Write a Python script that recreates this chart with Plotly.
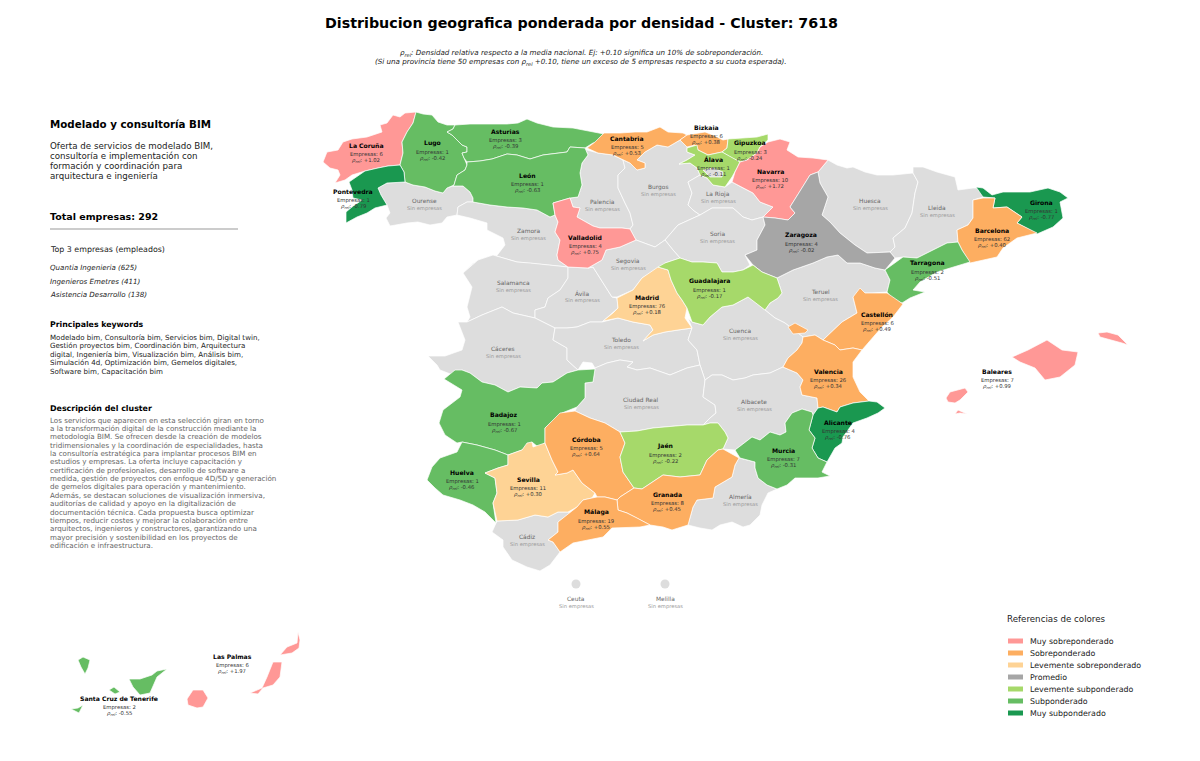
import plotly.graph_objects as go

# colores por nivel
colores = {
    'Muy sobreponderado': '#ff9896',
    'Sobreponderado': '#fdae61',
    'Levemente sobreponderado': '#fed395',
    'Promedio': '#a6a6a6',
    'Levemente subponderado': '#a6d96a',
    'Subponderado': '#66bd63',
    'Muy subponderado': '#1a9850',
}
gris = '#dddddd'

# provincias con empresas
provincias = ['La Coruña', 'Lugo', 'Asturias', 'León', 'Pontevedra', 'Cantabria', 'Bizkaia', 'Gipuzkoa',
              'Álava', 'Navarra', 'Zaragoza', 'Valladolid', 'Madrid', 'Guadalajara', 'Girona', 'Barcelona',
              'Tarragona', 'Castellón', 'Valencia', 'Alicante', 'Murcia', 'Badajoz', 'Huelva', 'Sevilla',
              'Córdoba', 'Jaén', 'Granada', 'Málaga', 'Baleares', 'Las Palmas', 'Santa Cruz de Tenerife']
empresas = [6, 1, 3, 1, 1, 5, 6, 3, 1, 10, 4, 4, 76, 1, 1, 62, 2, 6, 26, 4, 7, 1, 1, 11, 5, 2, 8, 19, 7, 6, 2]
rho_rel = [1.02, -0.42, -0.39, -0.63, -0.79, 0.53, 0.38, -0.24, -0.11, 1.72, -0.02, 0.75, 0.18, -0.17, -0.77,
           0.40, -0.51, 0.49, 0.34, -0.76, -0.31, -0.67, -0.46, 0.30, 0.64, -0.22, 0.45, 0.55, 0.99, 1.97, -0.55]
niveles = ['Muy sobreponderado', 'Subponderado', 'Subponderado', 'Subponderado', 'Muy subponderado',
           'Sobreponderado', 'Sobreponderado', 'Levemente subponderado', 'Levemente subponderado',
           'Muy sobreponderado', 'Promedio', 'Muy sobreponderado', 'Levemente sobreponderado',
           'Levemente subponderado', 'Muy subponderado', 'Sobreponderado', 'Subponderado', 'Sobreponderado',
           'Sobreponderado', 'Muy subponderado', 'Subponderado', 'Subponderado', 'Subponderado',
           'Levemente sobreponderado', 'Sobreponderado', 'Levemente subponderado', 'Sobreponderado',
           'Sobreponderado', 'Muy sobreponderado', 'Muy sobreponderado', 'Subponderado']
etiqueta_x = [366, 432, 505, 527, 353, 627, 706, 750, 713, 770, 801, 585, 647, 709, 1041, 992, 927, 877, 828,
              838, 783, 504, 462, 528, 586, 665, 667, 596, 997, 232, 119]
etiqueta_y = [145, 143, 131, 175, 191, 138, 127, 143, 159, 171, 235, 237, 297, 281, 202, 230, 263, 314, 371,
              422, 450, 415, 472, 479, 439, 446, 494, 512, 371, 656, 698]

# provincias sin empresas
sin_empresas = ['Ourense', 'Zamora', 'Palencia', 'Burgos', 'La Rioja', 'Soria', 'Huesca', 'Lleida', 'Salamanca',
                'Ávila', 'Segovia', 'Teruel', 'Cáceres', 'Toledo', 'Cuenca', 'Ciudad Real', 'Albacete',
                'Almería', 'Cádiz', 'Ceuta', 'Melilla']
gris_x = [424, 528, 602, 658, 718, 717, 870, 937, 513, 582, 628, 820, 503, 621, 740, 641, 754, 740, 527, 576, 665]
gris_y = [201, 231, 202, 187, 194, 234, 201, 208, 283, 293, 261, 292, 349, 340, 331, 400, 402, 497, 537, 599, 599]
ciudades_x = [576, 665]
ciudades_y = [584, 584]

la_coruna = [(416,112),(405,113),(400,117),(393,115),(387,123),(380,125),(382,132),(367,137),(352,139),(343,142),(338,150),(327,152),(323,162),(330,168),(338,170),(340,175),(335,183),(345,180),(352,175),(365,171),(378,168),(388,166),(400,165),(403,153),(402,142),(407,132),(413,123)]
lugo = [(416,112),(423,114),(432,115),(438,122),(447,125),(455,125),(453,129),(447,132),(452,135),(457,140),(462,145),(467,147),(467,152),(462,153),(464,158),(467,165),(465,170),(457,175),(454,185),(447,188),(443,193),(435,191),(425,187),(413,185),(405,182),(404,172),(400,165),(403,153),(402,142),(407,132),(413,123)]
asturias = [(455,125),(470,124),(490,124),(507,124),(518,123),(527,119),(537,123),(553,127),(573,128),(597,133),(604,134),(603,142),(593,143),(585,148),(570,147),(567,152),(557,153),(543,155),(530,159),(517,155),(507,154),(492,159),(480,161),(467,162),(464,158),(462,153),(467,152),(467,147),(462,145),(457,140),(452,135),(447,132),(453,129)]
leon = [(467,162),(480,161),(492,159),(507,154),(517,155),(530,159),(543,155),(557,153),(567,152),(570,147),(585,148),(588,155),(582,163),(580,173),(582,185),(578,197),(570,198),(553,203),(555,215),(550,217),(537,210),(523,208),(507,207),(490,205),(473,202),(473,198),(470,192),(463,186),(453,186),(454,185),(457,175),(465,170),(467,165)]
pontevedra = [(349,182),(365,171),(378,168),(388,166),(400,165),(404,172),(405,182),(387,183),(378,188),(381,195),(387,205),(375,208),(367,213),(357,217),(346,223),(346,212),(352,207),(362,200),(353,198),(352,190)]
ourense = [(378,188),(387,183),(405,182),(413,185),(425,187),(435,191),(443,193),(447,188),(453,186),(463,186),(470,192),(473,198),(473,202),(467,202),(458,207),(457,215),(447,217),(442,223),(430,225),(418,222),(407,223),(390,226),(386,218),(390,213),(387,205),(381,195)]
zamora = [(458,207),(467,202),(473,202),(490,205),(507,207),(523,208),(537,210),(550,217),(555,215),(558,222),(555,232),(560,240),(557,255),(558,260),(568,267),(548,265),(530,263),(517,262),(493,255),(478,260),(463,273),(473,263),(495,258),(505,245),(503,238),(487,230),(487,223),(470,218),(457,215)]
palencia = [(585,148),(587,150),(598,153),(613,155),(623,160),(625,168),(618,175),(618,188),(625,203),(630,213),(633,225),(630,229),(622,228),(600,228),(593,226),(577,217),(580,208),(573,207),(570,198),(578,197),(582,185),(580,173),(582,163),(588,155)]
valladolid = [(553,203),(570,198),(573,207),(580,208),(577,217),(593,226),(600,228),(622,228),(630,229),(636,240),(620,247),(606,250),(602,260),(588,268),(568,267),(558,260),(557,255),(560,240),(555,232),(558,222),(555,215)]
cantabria = [(587,148),(595,142),(604,133),(620,133),(635,132),(647,132),(660,127),(668,132),(683,133),(687,135),(680,140),(668,147),(657,145),(645,152),(637,160),(645,163),(645,168),(637,170),(630,163),(623,160),(613,155),(598,153)]
bizkaia = [(687,135),(697,133),(705,132),(713,135),(723,140),(728,139),(727,148),(722,152),(708,155),(698,150),(695,145),(687,147),(680,140)]
gipuzkoa = [(728,139),(743,138),(757,137),(768,134),(768,140),(760,147),(757,153),(747,160),(740,162),(732,158),(722,152),(727,148)]
alava = [(687,148),(697,145),(698,150),(708,155),(722,152),(732,158),(740,162),(737,168),(732,177),(725,187),(713,185),(707,178),(700,175),(697,168),(690,163),(679,164),(687,160),(695,155),(687,152)]
trevino = [(703,170),(713,168),(723,172),(722,177),(710,177)]
navarra = [(760,147),(768,142),(780,139),(790,142),(787,150),(798,157),(813,158),(828,160),(818,172),(810,175),(802,188),(790,207),(795,213),(788,220),(775,218),(763,217),(773,207),(760,202),(753,193),(743,188),(732,182),(735,172),(740,162),(747,160),(757,153)]
la_rioja = [(688,182),(700,175),(707,178),(713,185),(725,187),(732,182),(743,188),(753,193),(760,202),(773,207),(763,217),(752,220),(743,217),(733,208),(712,208),(700,215),(693,210),(688,205),(692,193)]
burgos = [(637,170),(645,168),(645,163),(637,160),(645,152),(657,145),(668,147),(680,140),(687,147),(687,152),(695,155),(687,160),(679,164),(690,163),(697,168),(700,175),(688,182),(692,193),(688,205),(693,210),(700,215),(678,225),(665,240),(655,247),(636,240),(630,229),(633,225),(630,213),(625,203),(618,188),(618,175),(625,168),(623,160),(630,163)]
soria = [(665,240),(678,225),(700,215),(712,208),(733,208),(743,217),(752,220),(763,217),(765,225),(757,240),(757,250),(745,255),(750,265),(743,270),(733,272),(722,272),(717,263),(703,262),(692,262),(680,258),(673,250)]
segovia = [(620,247),(636,240),(655,247),(665,240),(673,250),(680,258),(665,263),(663,268),(658,268),(642,278),(633,290),(617,297),(612,297),(600,278),(593,267),(588,268),(602,260),(606,250)]
avila = [(568,267),(588,268),(593,267),(600,278),(612,297),(617,298),(618,308),(610,315),(602,322),(590,322),(577,327),(567,328),(555,328),(535,318),(535,310),(545,307),(548,298),(560,290),(568,278)]
salamanca = [(463,273),(478,260),(493,255),(517,262),(530,263),(548,265),(568,267),(568,278),(560,290),(548,298),(545,307),(535,310),(535,318),(513,313),(502,307),(482,315),(467,322),(470,317),(467,307),(472,287)]
madrid = [(658,267),(668,270),(671,280),(677,293),(682,300),(687,308),(685,318),(692,328),(678,330),(665,332),(653,335),(643,341),(653,330),(650,325),(633,322),(618,318),(603,321),(613,313),(618,308),(617,298),(633,290),(642,278)]
guadalajara = [(665,263),(680,258),(692,262),(703,262),(717,263),(722,272),(733,272),(743,270),(753,265),(762,272),(777,278),(782,293),(778,298),(770,303),(765,310),(755,302),(748,297),(733,305),(722,307),(710,317),(703,325),(692,322),(687,308),(682,300),(677,293),(671,280),(668,270),(658,267)]
teruel = [(777,278),(793,270),(813,263),(827,257),(838,255),(847,263),(860,263),(875,268),(885,270),(890,280),(887,292),(872,293),(860,293),(853,297),(857,313),(842,322),(823,340),(815,335),(803,337),(785,323),(775,318),(765,310),(770,303),(778,298),(782,293)]
zaragoza = [(763,217),(775,218),(788,220),(795,213),(790,207),(802,188),(810,175),(818,172),(820,183),(828,197),(822,215),(830,222),(840,233),(855,245),(867,253),(890,252),(895,258),(885,270),(875,268),(860,263),(847,263),(838,255),(827,257),(813,263),(793,270),(777,278),(762,272),(753,265),(745,255),(757,250),(757,240),(765,225)]
huesca = [(828,160),(837,165),(847,168),(853,167),(865,172),(877,175),(893,175),(913,173),(918,182),(915,193),(912,213),(905,228),(893,238),(895,247),(890,252),(867,253),(855,245),(840,233),(830,222),(822,215),(828,197),(820,183),(818,172)]
lleida = [(913,173),(913,167),(923,167),(937,172),(955,177),(958,190),(973,188),(982,188),(983,197),(973,200),(973,218),(968,225),(957,230),(958,242),(947,243),(933,250),(917,258),(903,257),(895,258),(890,252),(895,247),(893,238),(905,228),(912,213),(915,193),(918,182)]
tarragona = [(958,242),(962,250),(970,262),(953,267),(937,272),(920,282),(913,290),(925,292),(910,298),(902,303),(893,300),(887,292),(890,280),(885,270),(903,257),(917,258),(933,250),(947,243)]
barcelona = [(973,200),(983,198),(995,198),(993,208),(1007,207),(1022,217),(1017,223),(1037,233),(1017,238),(1003,248),(997,257),(970,263),(962,250),(958,242),(957,230),(968,225),(973,218)]
girona = [(976,187),(983,188),(992,195),(1003,192),(1017,192),(1030,192),(1048,188),(1060,192),(1068,198),(1060,202),(1063,218),(1053,227),(1037,234),(1017,223),(1022,217),(1007,207),(993,208),(995,198),(983,197)]
castellon = [(860,288),(865,293),(887,293),(903,304),(893,317),(882,327),(875,335),(862,350),(853,348),(840,350),(835,345),(823,340),(842,322),(857,313),(853,297)]
valencia = [(803,337),(815,335),(823,340),(835,345),(840,350),(853,348),(862,350),(853,362),(853,377),(860,392),(869,401),(853,403),(840,407),(837,412),(823,407),(818,408),(817,398),(802,395),(800,387),(803,380),(797,373),(783,367),(788,358),(797,350),(802,343)]
ademuz = [(788,327),(795,323),(808,330),(805,333),(793,334)]
alicante = [(818,408),(823,407),(837,412),(840,407),(853,403),(869,401),(877,402),(885,408),(878,413),(867,418),(853,423),(843,437),(842,443),(835,448),(827,462),(818,458),(812,448),(815,438),(809,430),(813,415)]
murcia = [(786,432),(785,423),(792,413),(802,409),(812,412),(813,415),(809,430),(815,438),(812,448),(818,458),(827,462),(822,472),(830,476),(818,478),(805,478),(795,478),(787,485),(777,489),(767,485),(758,478),(755,468),(755,462),(740,458),(735,450),(752,437),(760,440),(770,432),(780,435)]
albacete = [(783,367),(797,373),(803,380),(800,387),(802,395),(817,398),(818,408),(813,415),(812,412),(802,409),(792,413),(785,423),(786,432),(780,435),(770,432),(760,440),(752,437),(735,450),(723,449),(728,438),(725,432),(718,423),(710,423),(703,425),(710,418),(716,413),(715,405),(703,397),(705,380),(712,375),(722,375),(733,380),(745,378),(753,375),(770,373)]
cuenca = [(692,328),(688,318),(692,322),(703,325),(710,317),(722,307),(733,305),(748,297),(755,302),(765,310),(775,318),(785,323),(803,337),(802,343),(797,350),(788,358),(783,367),(770,373),(753,375),(745,378),(733,380),(722,375),(712,375),(705,380),(700,365),(697,350),(688,340)]
toledo = [(555,328),(567,328),(577,327),(590,322),(602,322),(618,318),(633,322),(650,325),(653,330),(643,341),(653,335),(665,332),(678,330),(692,328),(688,340),(697,350),(700,365),(687,368),(670,375),(650,368),(637,370),(627,367),(633,362),(620,360),(607,363),(595,368),(592,363),(583,362),(578,370),(567,360),(567,348),(553,340)]
caceres = [(458,322),(467,322),(482,315),(502,307),(513,313),(535,318),(555,328),(553,340),(567,348),(567,360),(578,370),(567,373),(553,382),(542,383),(537,388),(520,387),(508,392),(495,385),(482,382),(470,373),(462,370),(453,375),(440,370),(437,365),(428,356),(445,356),(462,350),(465,340)]
badajoz = [(444,379),(455,370),(462,370),(470,373),(482,382),(495,385),(508,392),(520,387),(537,388),(542,383),(553,382),(567,373),(578,370),(595,369),(593,382),(585,383),(585,398),(577,407),(562,413),(545,428),(545,443),(538,447),(532,442),(522,450),(508,455),(495,450),(477,445),(462,442),(457,443),(445,435),(439,423),(443,410),(460,397),(462,390)]
huelva = [(462,442),(477,445),(495,450),(508,455),(508,465),(498,468),(485,473),(495,478),(497,493),(493,503),(496,523),(485,512),(473,505),(460,500),(443,495),(435,488),(427,480),(432,467),(440,458),(457,452)]
sevilla = [(508,455),(522,450),(527,443),(532,442),(533,447),(545,443),(552,460),(558,472),(555,475),(567,473),(573,470),(582,483),(595,493),(592,498),(583,500),(577,507),(568,512),(558,512),(548,517),(535,515),(518,520),(497,521),(493,503),(497,493),(495,478),(485,473),(498,468),(508,465)]
cordoba = [(545,428),(560,413),(575,411),(590,418),(605,423),(620,432),(625,443),(620,457),(623,472),(630,482),(634,488),(620,497),(617,500),(605,497),(597,497),(595,493),(582,483),(573,470),(567,473),(555,475),(558,472),(552,460),(545,443)]
ciudad_real = [(595,368),(607,363),(620,360),(633,362),(627,367),(637,370),(650,368),(670,375),(687,368),(700,365),(705,380),(703,397),(715,405),(716,413),(710,418),(703,425),(687,425),(667,427),(653,428),(637,431),(620,432),(605,423),(590,418),(575,411),(577,407),(585,398),(585,383),(593,382)]
jaen = [(620,432),(637,431),(653,428),(667,427),(687,425),(703,425),(710,423),(718,423),(725,432),(728,438),(723,449),(718,450),(707,460),(700,475),(680,477),(663,475),(642,489),(634,488),(630,482),(623,472),(620,457),(625,443)]
granada = [(634,488),(642,489),(663,475),(680,477),(700,475),(707,460),(718,450),(723,449),(739,458),(735,465),(732,477),(715,487),(713,498),(697,500),(693,507),(690,517),(688,525),(672,530),(663,527),(650,525),(637,518),(627,513),(618,510),(617,500),(620,497)]
almeria = [(715,487),(732,477),(735,465),(739,458),(755,462),(755,468),(758,478),(767,485),(777,489),(768,493),(762,505),(760,515),(750,525),(743,527),(732,522),(720,525),(712,530),(700,528),(688,525),(690,517),(693,507),(697,500),(713,498)]
malaga = [(577,507),(583,500),(592,498),(597,497),(605,497),(617,500),(618,510),(627,513),(637,518),(650,525),(640,527),(620,528),(612,528),(603,537),(587,540),(573,543),(560,552),(553,542),(548,540),(558,532),(558,522),(570,513)]
cadiz = [(497,521),(518,520),(535,515),(548,517),(558,512),(568,512),(570,513),(558,522),(558,532),(548,540),(553,542),(560,552),(550,565),(540,571),(527,567),(512,560),(503,547),(503,540),(492,532)]
mallorca = [(1012,357),(1028,350),(1047,340),(1062,350),(1078,352),(1075,365),(1060,377),(1045,380),(1035,368),(1020,362)]
menorca = [(1098,333),(1107,332),(1118,335),(1128,345),(1122,343),(1110,340),(1100,337)]
ibiza = [(946,398),(950,392),(965,388),(968,392),(960,400),(955,403),(948,402)]
formentera = [(955,414),(958,410),(967,414),(960,413)]
la_palma = [(78,660),(83,657),(90,660),(88,668),(85,674),(81,667)]
gomera = [(109,690),(114,687),(120,692),(115,694)]
tenerife = [(129,679),(140,679),(152,675),(157,671),(167,669),(157,677),(150,693),(140,695),(133,687)]
el_hierro = [(71,709),(78,708),(83,705),(79,713),(75,711)]
gran_canaria = [(187,699),(193,690),(203,690),(208,698),(203,707),(197,708),(188,705)]
fuerteventura = [(250,693),(262,688),(267,677),(273,662),(282,662),(280,677),(273,685),(263,688),(258,694)]
lanzarote = [(280,655),(287,647),(297,643),(298,632),(300,640),(299,648),(292,653)]

contornos = {
    'La Coruña': [la_coruna], 'Lugo': [lugo], 'Asturias': [asturias], 'León': [leon], 'Pontevedra': [pontevedra],
    'Cantabria': [cantabria], 'Bizkaia': [bizkaia], 'Gipuzkoa': [gipuzkoa], 'Álava': [alava], 'Navarra': [navarra],
    'Zaragoza': [zaragoza], 'Valladolid': [valladolid], 'Madrid': [madrid], 'Guadalajara': [guadalajara],
    'Girona': [girona], 'Barcelona': [barcelona], 'Tarragona': [tarragona], 'Castellón': [castellon],
    'Valencia': [valencia, ademuz], 'Alicante': [alicante], 'Murcia': [murcia], 'Badajoz': [badajoz],
    'Huelva': [huelva], 'Sevilla': [sevilla], 'Córdoba': [cordoba], 'Jaén': [jaen], 'Granada': [granada],
    'Málaga': [malaga], 'Baleares': [mallorca, menorca, ibiza, formentera],
    'Las Palmas': [gran_canaria, fuerteventura, lanzarote],
    'Santa Cruz de Tenerife': [tenerife, la_palma, gomera, el_hierro],
    'Ourense': [ourense], 'Zamora': [zamora], 'Palencia': [palencia], 'Burgos': [burgos], 'La Rioja': [la_rioja],
    'Soria': [soria], 'Huesca': [huesca], 'Lleida': [lleida], 'Salamanca': [salamanca], 'Ávila': [avila],
    'Segovia': [segovia], 'Teruel': [teruel], 'Cáceres': [caceres], 'Toledo': [toledo], 'Cuenca': [cuenca],
    'Ciudad Real': [ciudad_real], 'Albacete': [albacete], 'Almería': [almeria], 'Cádiz': [cadiz],
}

# textos del panel izquierdo
descripcion_corta = ['Oferta de servicios de modelado BIM,', 'consultoría e implementación con',
                     'formación y coordinación para', 'arquitectura e ingeniería']
top_empresas = ['Quantia Ingenieria (625)', 'Ingenieros Emetres (411)', 'Asistencia Desarrollo (138)']
keywords = ['Modelado bim, Consultoría bim, Servicios bim, Digital twin,',
            'Gestión proyectos bim, Coordinación bim, Arquitectura',
            'digital, Ingeniería bim, Visualización bim, Análisis bim,',
            'Simulación 4d, Optimización bim, Gemelos digitales,',
            'Software bim, Capacitación bim']
descripcion = ['Los servicios que aparecen en esta selección giran en torno',
               'a la transformación digital de la construcción mediante la',
               'metodología BIM. Se ofrecen desde la creación de modelos',
               'tridimensionales y la coordinación de especialidades, hasta',
               'la consultoría estratégica para implantar procesos BIM en',
               'estudios y empresas. La oferta incluye capacitación y',
               'certificación de profesionales, desarrollo de software a',
               'medida, gestión de proyectos con enfoque 4D/5D y generación',
               'de gemelos digitales para operación y mantenimiento.',
               'Además, se destacan soluciones de visualización inmersiva,',
               'auditorías de calidad y apoyo en la digitalización de',
               'documentación técnica. Cada propuesta busca optimizar',
               'tiempos, reducir costes y mejorar la colaboración entre',
               'arquitectos, ingenieros y constructores, garantizando una',
               'mayor precisión y sostenibilidad en los proyectos de',
               'edificación e infraestructura.']
FUENTE = 'DejaVu Sans'


def poligono(partes, color, nombre):
    xs, ys = [], []
    for parte in partes:
        xs += [p[0] for p in parte] + [parte[0][0], None]
        ys += [p[1] for p in parte] + [parte[0][1], None]
    return go.Scatter(x=xs, y=ys, mode='lines', fill='toself', fillcolor=color, name=nombre,
                      line=dict(color='white', width=0.7), hoverinfo='name', showlegend=False)


def texto(fig, x, y, s, size, color='black', anchor='left'):
    fig.add_annotation(x=x, y=y, text=s, showarrow=False, xanchor=anchor, yanchor='middle',
                       align=anchor, xref='x', yref='y', borderpad=0,
                       font=dict(family=FUENTE, size=size, color=color))


fig = go.Figure()

for n in sin_empresas:
    if n in contornos:
        fig.add_trace(poligono(contornos[n], gris, n))
for n, nivel in zip(provincias, niveles):
    fig.add_trace(poligono(contornos[n], colores[nivel], n))
fig.add_trace(poligono([trevino], gris, 'Burgos'))

fig.add_trace(go.Scatter(x=ciudades_x, y=ciudades_y, mode='markers', hoverinfo='skip', showlegend=False,
                         marker=dict(color=gris, size=9)))

# etiquetas de provincias
for n, x, y in zip(sin_empresas, gris_x, gris_y):
    texto(fig, x, y, n, 5.9, '#666666', 'center')
    texto(fig, x, y + 7, 'Sin empresas', 5.2, '#999999', 'center')
for n, e, r, x, y in zip(provincias, empresas, rho_rel, etiqueta_x, etiqueta_y):
    texto(fig, x, y, '<b>%s</b>' % n, 6.1, 'black', 'center')
    texto(fig, x, y + 9, 'Empresas: %d' % e, 5.3, '#333333', 'center')
    texto(fig, x, y + 15, '<i>ρ<sub>rel</sub></i>: %+.2f' % r, 5.3, '#333333', 'center')

# titulo
texto(fig, 581, 23, '<b>Distribucion geografica ponderada por densidad - Cluster: 7618</b>', 14.25, anchor='center')
texto(fig, 581, 52.7, '<i>ρ<sub>rel</sub>: Densidad relativa respecto a la media nacional. Ej: +0.10 significa un 10% de sobreponderación.</i>', 7.15, '#222222', 'center')
texto(fig, 581, 61.7, '<i>(Si una provincia tiene 50 empresas con ρ<sub>rel</sub> +0.10, tiene un exceso de 5 empresas respecto a su cuota esperada).</i>', 7.15, '#222222', 'center')

# panel izquierdo
texto(fig, 49, 124, '<b>Modelado y consultoría BIM</b>', 10.3)
for i, linea in enumerate(descripcion_corta):
    texto(fig, 49, 146 + i * 10, linea, 8.7, '#222222')
texto(fig, 49, 216, '<b>Total empresas: 292</b>', 9.5)
fig.add_shape(type='line', x0=50, x1=238, y0=229, y1=229, line=dict(color='#cccccc', width=2))
texto(fig, 49, 249, 'Top 3 empresas (empleados)', 7.9, '#222222')
for y, linea in zip([267, 281, 294], top_empresas):
    texto(fig, 49, y, '<i>%s</i>' % linea, 7.1, '#222222')
texto(fig, 49, 324, '<b>Principales keywords</b>', 7.8)
for i, linea in enumerate(keywords):
    texto(fig, 49, 337.5 + i * 8.4, linea, 7.1, '#222222')
texto(fig, 49, 408, '<b>Descripción del cluster</b>', 7.9)
for i, linea in enumerate(descripcion):
    texto(fig, 49, 420 + i * 8.37, linea, 7.15, '#666666')

# referencias de colores
texto(fig, 1006, 619, 'Referencias de colores', 8.7, '#222222')
for i, (nivel, color) in enumerate(colores.items()):
    y = 641 + i * 12
    fig.add_shape(type='rect', x0=1008, x1=1023, y0=y - 2.5, y1=y + 2.5, fillcolor=color, line_width=0)
    texto(fig, 1029, y, nivel, 7.9, '#222222')

# la pagina deja 8 px de margen en el body, por eso el rango empieza en 8
fig.update_xaxes(range=[8, 1192], visible=False)
fig.update_yaxes(range=[753, 8], visible=False)
fig.update_layout(width=1184, height=745, margin=dict(l=0, r=0, t=0, b=0), plot_bgcolor='white',
                  paper_bgcolor='white', font=dict(family=FUENTE))
fig.write_html("out.html")
